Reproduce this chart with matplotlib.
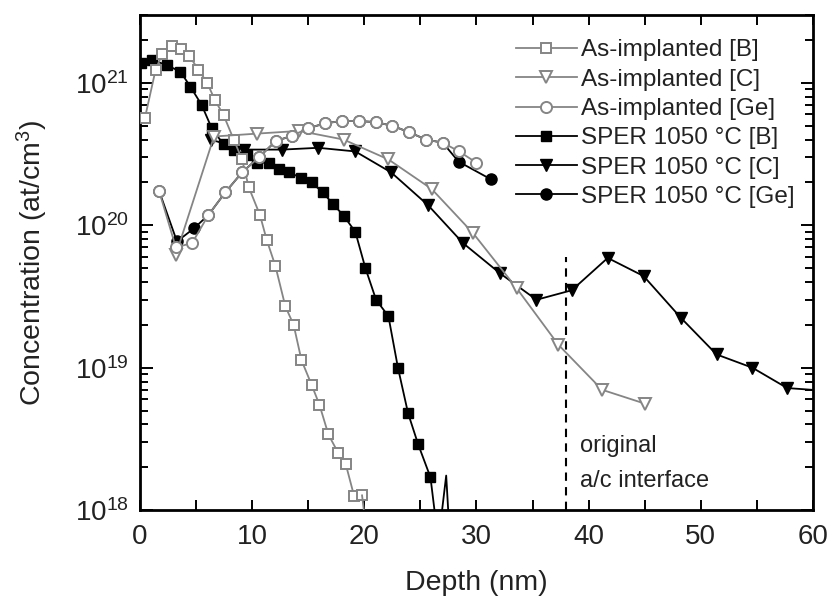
import numpy as np
import matplotlib
matplotlib.use("Agg")
import matplotlib.pyplot as plt
import matplotlib.ticker as mticker

plt.rcParams["font.family"] = ["Liberation Sans", "DejaVu Sans"]
plt.rcParams["mathtext.fontset"] = "custom"
plt.rcParams["mathtext.rm"] = "Liberation Sans"
plt.rcParams["mathtext.it"] = "Liberation Sans:italic"

# depth (nm) / concentration (at/cm3)
asimp_b_x = [0.45, 1.4, 2.0, 2.87, 3.7, 4.4, 5.2, 6.0, 6.67, 7.47, 8.36, 9.1, 9.7,
             10.7, 11.3, 12.07, 12.96, 13.7, 14.4, 15.3, 16.0, 16.8, 17.7, 18.35,
             19.1, 19.8]
asimp_b_y = [5.7e20, 1.24e21, 1.6e21, 1.8e21, 1.73e21, 1.55e21, 1.24e21, 1.0e21,
             7.6e20, 5.9e20, 4.0e20, 2.9e20, 1.85e20, 1.18e20, 7.9e19, 5.2e19,
             2.7e19, 2.0e19, 1.13e19, 7.6e18, 5.5e18, 3.4e18, 2.5e18, 2.1e18,
             1.25e18, 1.27e18]
# below-detection tail, drawn as bare line
asimp_b_tail_x = [19.8, 20.3]
asimp_b_tail_y = [1.27e18, 6e17]

asimp_c_x = [3.2, 6.6, 10.4, 14.2, 18.15, 22.15, 26.0, 29.7, 33.6, 37.3, 41.2, 45.0]
asimp_c_y = [6.2e19, 4.2e20, 4.4e20, 4.6e20, 4.0e20, 2.9e20, 1.8e20, 8.8e19,
             3.6e19, 1.45e19, 7.0e18, 5.6e18]

asimp_ge_x = [1.7, 3.2, 4.65, 6.1, 7.6, 9.1, 10.6, 12.1, 13.55, 15.0, 16.5, 18.0,
              19.5, 21.0, 22.5, 24.0, 25.5, 27.0, 28.45, 30.0]
asimp_ge_y = [1.75e20, 7.0e19, 7.5e19, 1.18e20, 1.7e20, 2.35e20, 3.0e20, 3.9e20,
              4.25e20, 4.8e20, 5.2e20, 5.4e20, 5.4e20, 5.3e20, 5.0e20, 4.5e20,
              4.0e20, 3.8e20, 3.3e20, 2.75e20]

sper_b_x = [0.06, 1.1, 2.4, 3.6, 4.5, 5.5, 6.4, 7.45, 8.4, 9.5, 10.4, 11.5, 12.4,
            13.3, 14.4, 15.3, 16.3, 17.25, 18.15, 19.2, 20.1, 21.05, 22.15, 23.0,
            23.9, 24.8, 25.9]
sper_b_y = [1.37e21, 1.45e21, 1.33e21, 1.2e21, 9.4e20, 7.0e20, 4.8e20, 3.7e20,
            3.4e20, 3.1e20, 2.75e20, 2.75e20, 2.5e20, 2.35e20, 2.15e20, 2.0e20,
            1.7e20, 1.4e20, 1.17e20, 9.0e19, 5.0e19, 3.0e19, 2.3e19, 1.0e19,
            4.8e18, 2.9e18, 1.7e18]
sper_b_tail_x = [25.9, 26.6, 27.3, 27.7]
sper_b_tail_y = [1.7e18, 6e17, 1.75e18, 5e17]

sper_c_x = [6.3, 9.3, 12.7, 15.9, 19.2, 22.4, 25.7, 28.8, 32.1, 35.35, 38.5, 41.7,
            44.9, 48.2, 51.4, 54.6, 57.7, 61.0]
sper_c_y = [4.0e20, 3.4e20, 3.4e20, 3.5e20, 3.3e20, 2.35e20, 1.38e20, 7.5e19,
            4.6e19, 3.0e19, 3.5e19, 5.9e19, 4.4e19, 2.25e19, 1.24e19, 1.0e19,
            7.2e18, 6.9e18]

sper_ge_x = [1.7, 3.3, 4.8, 6.1, 7.6, 9.1, 10.6, 12.1, 13.55, 15.0, 16.5, 18.0,
             19.5, 21.0, 22.5, 24.0, 25.5, 27.0, 28.4, 31.3]
sper_ge_y = [1.75e20, 7.7e19, 9.5e19, 1.18e20, 1.7e20, 2.35e20, 3.0e20, 3.9e20,
             4.25e20, 4.8e20, 5.2e20, 5.4e20, 5.4e20, 5.3e20, 5.0e20, 4.5e20,
             4.0e20, 3.8e20, 2.8e20, 2.1e20]

interface_x = 38.0

GREY = "#858585"
TXT = "#222222"

fig = plt.figure(figsize=(8.33, 5.96), dpi=100)
ax = fig.add_axes([0.168, 0.144, 0.808, 0.831])

open_kw = dict(color=GREY, lw=1.3, mfc="white", mec=GREY, mew=1.4)
fill_kw = dict(color="black", lw=1.3, mfc="black", mec="black", mew=1.0)

l_sb, = ax.plot(sper_b_x, sper_b_y, marker="s", ms=7, zorder=3,
                label="SPER 1050 °C [B]", **fill_kw)
ax.plot(sper_b_tail_x, sper_b_tail_y, color="black", lw=1.3, zorder=3)
l_sc, = ax.plot(sper_c_x, sper_c_y, marker="v", ms=8.5, zorder=3,
                label="SPER 1050 °C [C]", **fill_kw)
l_sg, = ax.plot(sper_ge_x, sper_ge_y, marker="o", ms=8, zorder=3,
                label="SPER 1050 °C [Ge]", **fill_kw)
l_ab, = ax.plot(asimp_b_x, asimp_b_y, marker="s", ms=7, zorder=4,
                label="As-implanted [B]", **open_kw)
ax.plot(asimp_b_tail_x, asimp_b_tail_y, color=GREY, lw=1.3, zorder=4)
l_ac, = ax.plot(asimp_c_x, asimp_c_y, marker="v", ms=8.5, zorder=4,
                label="As-implanted [C]", **open_kw)
l_ag, = ax.plot(asimp_ge_x, asimp_ge_y, marker="o", ms=8, zorder=4,
                label="As-implanted [Ge]", **open_kw)

ax.plot([interface_x, interface_x], [1e18, 6e19], color="black", lw=1.5,
        ls=(0, (4, 3)), zorder=2)
ax.text(39.2, 2.8e18, "original", fontsize=17, color=TXT, va="center")
ax.text(39.2, 1.6e18, "a/c interface", fontsize=17, color=TXT, va="center")

ax.set_yscale("log")
ax.set_xlim(0, 60)
ax.set_ylim(1e18, 3e21)
ax.xaxis.set_major_locator(mticker.MultipleLocator(10))
ax.xaxis.set_minor_locator(mticker.MultipleLocator(5))
ax.yaxis.set_minor_formatter(mticker.NullFormatter())
ax.tick_params(which="both", direction="in", top=True, right=True,
               labelsize=20, labelcolor=TXT, width=1.4)
ax.tick_params(axis="x", which="both", length=7, pad=10)
ax.tick_params(axis="y", which="major", length=9, pad=8)
ax.tick_params(axis="y", which="minor", length=6)
for s in ax.spines.values():
    s.set_linewidth(2.0)

ax.set_xlabel("Depth (nm)", fontsize=20.5, color=TXT, labelpad=14)
ax.set_ylabel("Concentration (at/cm$^3$)", fontsize=20.5, color=TXT, labelpad=18)

leg = ax.legend(handles=[l_ab, l_ac, l_ag, l_sb, l_sc, l_sg], loc="upper right",
                frameon=False, fontsize=17.5, handlelength=2.5, handletextpad=0.2,
                labelspacing=0.3, borderaxespad=0.2, bbox_to_anchor=(0.995, 0.98))
for t in leg.get_texts():
    t.set_color(TXT)

fig.savefig("out.png", dpi=100)
